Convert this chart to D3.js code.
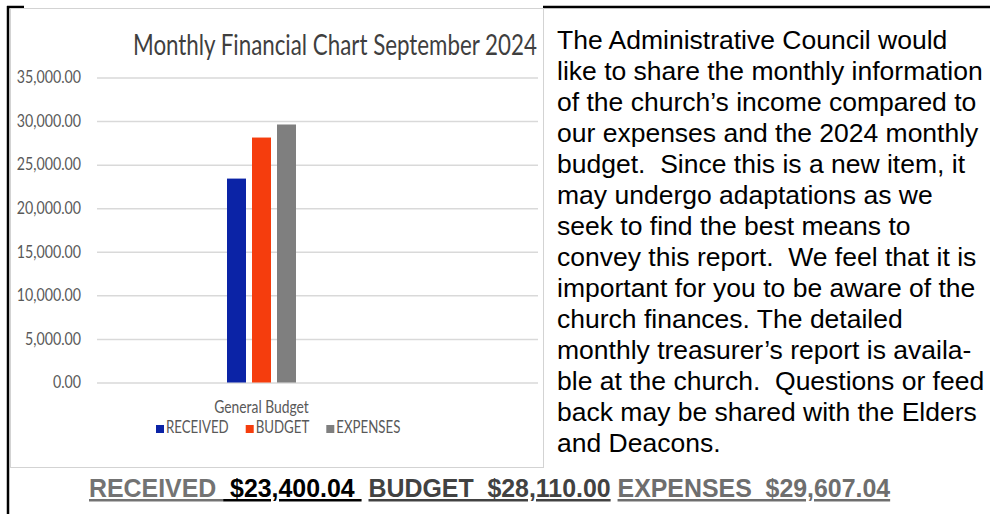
<!DOCTYPE html>
<html>
<head>
<meta charset="utf-8">
<script src="https://cdn.jsdelivr.net/npm/d3@7"></script>
<style>
  body { margin: 0; background: #fff; }
  svg { display: block; }
</style>
</head>
<body>
<svg id="page" width="990" height="514"></svg>
<script>
// chart data
var categories = ["General Budget"];
var series = ["RECEIVED", "BUDGET", "EXPENSES"];
var values = [23400.04, 28110.00, 29607.04];
var colors = ["#0b23a6", "#f53d0d", "#7f7f7f"];
var yTicks = [0, 5000, 10000, 15000, 20000, 25000, 30000, 35000];
var chartTitle = "Monthly Financial Chart September 2024";

// text beside the chart
var noteLines = [
  "The Administrative Council would",
  "like to share the monthly information",
  "of the church\u2019s income compared to",
  "our expenses and the 2024 monthly",
  "budget.  Since this is a new item, it",
  "may undergo adaptations as we",
  "seek to find the best means to",
  "convey this report.  We feel that it is",
  "important for you to be aware of the",
  "church finances. The detailed",
  "monthly treasurer\u2019s report is availa-",
  "ble at the church.  Questions or feed",
  "back may be shared with the Elders",
  "and Deacons."
];

// totals line under the chart
var totalLabels = ["RECEIVED", "BUDGET", "EXPENSES"];
var totalAmounts = ["$23,400.04", "$28,110.00", "$29,607.04"];

var svg = d3.select("#page");
var chartFont = "Lato, 'Open Sans', sans-serif";

// page frame (black rule on the left and top)
svg.append("line").attr("x1", 8).attr("y1", 6).attr("x2", 8).attr("y2", 514)
  .attr("stroke", "#000").attr("stroke-width", 2.5);
svg.append("line").attr("x1", 7).attr("y1", 7).attr("x2", 990).attr("y2", 7)
  .attr("stroke", "#000").attr("stroke-width", 2.5);

// chart picture (covers the top rule where it sits)
svg.append("rect")
  .attr("x", 24).attr("y", 4).attr("width", 519).attr("height", 6)
  .attr("fill", "#fff");
svg.append("rect")
  .attr("x", 10.5).attr("y", 8.5).attr("width", 533).attr("height", 459)
  .attr("fill", "#fff").attr("stroke", "#d3d3d3").attr("stroke-width", 1);

var plotLeft = 97, plotRight = 538;

var y = d3.scaleLinear().domain([0, 35000]).range([382.5, 77.5]);

var x0 = d3.scaleBand().domain(categories).range([97, 426])
  .paddingInner(0.6533).paddingOuter(0.6533);
var x1 = d3.scaleBand().domain(series).range([0, x0.bandwidth()])
  .paddingInner(0.24).paddingOuter(0);

// squeeze a text to a share of its natural width (the chart picture is narrowed)
function squeeze(sel, k) {
  sel.each(function () {
    var w = this.getComputedTextLength();
    d3.select(this).attr("textLength", w * k).attr("lengthAdjust", "spacingAndGlyphs");
  });
}

// gridlines + y labels
var yAxis = d3.axisLeft(y)
  .tickValues(yTicks)
  .tickSize(-(plotRight - plotLeft))
  .tickPadding(16)
  .tickFormat(d3.format(",.2f"));

var gy = svg.append("g")
  .attr("transform", "translate(" + plotLeft + ",0)")
  .call(yAxis);
gy.select(".domain").remove();
gy.selectAll(".tick line").attr("stroke", "#d9d9d9").attr("stroke-width", 1.5);
gy.selectAll(".tick text")
  .attr("fill", "#595959")
  .style("font-family", chartFont)
  .style("font-size", "16.5px");
squeeze(gy.selectAll(".tick text"), 0.86);

// bars
var groups = svg.selectAll("g.cat")
  .data(categories)
  .enter()
  .append("g")
  .attr("class", "cat")
  .attr("transform", function (d) { return "translate(" + x0(d) + ",0)"; });

groups.selectAll("rect")
  .data(series.map(function (s, i) { return { key: s, value: values[i], color: colors[i] }; }))
  .enter()
  .append("rect")
  .attr("x", function (d) { return x1(d.key); })
  .attr("y", function (d) { return y(d.value); })
  .attr("width", x1.bandwidth())
  .attr("height", function (d) { return y(0) - y(d.value); })
  .attr("fill", function (d) { return d.color; });

// category label
var catLabel = svg.selectAll("text.cat")
  .data(categories)
  .enter()
  .append("text")
  .attr("class", "cat")
  .attr("x", function (d) { return x0(d) + x0.bandwidth() / 2; })
  .attr("y", 413)
  .attr("text-anchor", "middle")
  .attr("fill", "#595959")
  .style("font-family", chartFont)
  .style("font-size", "16.5px")
  .text(function (d) { return d; });
squeeze(catLabel, 0.84);

// title: narrowed with a transform so its box stays tight
var titleText = svg.append("text")
  .attr("fill", "#3f3f3f")
  .style("font-family", chartFont)
  .style("font-size", "29px")
  .text(chartTitle);
var titleK = 404 / titleText.node().getComputedTextLength();
titleText.attr("transform", "translate(133,55) scale(" + titleK + ",1)");

// legend
var legend = svg.append("g").attr("transform", "translate(156,433)");
var lx = 0;
series.forEach(function (s, i) {
  legend.append("rect")
    .attr("x", lx).attr("y", -8).attr("width", 8).attr("height", 8)
    .attr("fill", colors[i]);
  var t = legend.append("text")
    .attr("x", lx + 10)
    .attr("y", 0)
    .attr("fill", "#595959")
    .style("font-family", chartFont)
    .style("font-size", "17px")
    .text(s);
  squeeze(t, 0.78);
  lx += 10 + (+t.attr("textLength")) + 17;
});

// paragraph on the right
svg.append("g").selectAll("text")
  .data(noteLines)
  .enter()
  .append("text")
  .attr("x", 557)
  .attr("y", function (d, i) { return 48.5 + i * 31; })
  .attr("fill", "#000")
  .style("font-family", "'Liberation Sans', Arial, sans-serif")
  .style("font-size", "26.5px")
  .style("white-space", "pre")
  .text(function (d) { return d; });

// totals line
var totals = svg.append("text")
  .attr("x", 89)
  .attr("y", 497)
  .style("font-family", "'Liberation Sans', Arial, sans-serif")
  .style("font-size", "24.9px")
  .style("font-weight", "bold")
  .style("white-space", "pre");

var parts = [
  { t: totalLabels[0] + " ", c: "#737373", u: true },
  { t: " " + totalAmounts[0] + " ", c: "#000", u: true },
  { t: " ", c: "#000", u: false },
  { t: totalLabels[1] + "  " + totalAmounts[1], c: "#424242", u: true },
  { t: " ", c: "#000", u: false },
  { t: totalLabels[2] + "  " + totalAmounts[2], c: "#6e6e6e", u: true }
];
totals.selectAll("tspan")
  .data(parts)
  .enter()
  .append("tspan")
  .attr("fill", function (d) { return d.c; })
  .style("text-decoration", function (d) { return d.u ? "underline" : "none"; })
  .text(function (d) { return d.t; });
</script>
</body>
</html>
